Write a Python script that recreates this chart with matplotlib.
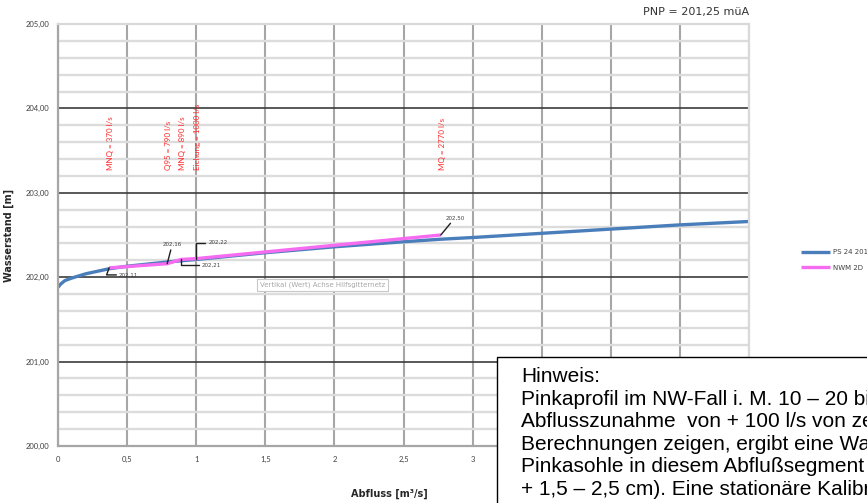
import matplotlib.pyplot as plt
from matplotlib.patches import Rectangle
from matplotlib.ticker import MultipleLocator, FuncFormatter

# Pegelschlüssel PS 24 2018 (Abfluss m3/s -> Wasserstand m ü.A.)
q_ps = [0.0, 0.02, 0.05, 0.1, 0.2, 0.37, 0.5, 0.79, 1.0, 1.5, 2.0, 2.5, 2.77, 3.0, 3.5, 4.0, 4.5, 5.0]
h_ps = [201.88, 201.92, 201.96, 201.99, 202.04, 202.10, 202.13, 202.18, 202.21, 202.29, 202.36, 202.42,
        202.45, 202.47, 202.52, 202.57, 202.62, 202.66]

# NWM 2D Ergebnisse
q_nwm = [0.37, 0.79, 0.89, 1.0, 2.77]
h_nwm = [202.11, 202.16, 202.21, 202.22, 202.50]

# Kennwerte
kenn_q = [0.37, 0.79, 0.89, 1.0, 2.77]
kenn_txt = ['MNQ = 370 l/s', 'Q95 = 790 l/s', 'MNQ = 890 l/s', 'Eichung = 1000 l/s', 'MQ = 2770 l/s']

# Beschriftungs-Offsets in Pixel und Verbindungsart
lbl_off = [(10, -7), (5, 19), (21, -6), (12, 16), (14, 17)]
lbl_conn = ['angle,angleA=0,angleB=70', 'arc3', 'angle,angleA=0,angleB=90',
            'angle,angleA=0,angleB=90', 'arc3']

hinweis = ("Hinweis:\n"
           "Pinkaprofil im NW-Fall i. M. 10 – 20 bis 25 m breit, bei\n"
           "Abflusszunahme  von + 100 l/s von zeigt sich, wie die\n"
           "Berechnungen zeigen, ergibt eine Wasserspiegeländerung\n"
           "Pinkasohle in diesem Abflußsegment von nur\n"
           "+ 1,5 – 2,5 cm). Eine stationäre Kalibrierung")

fig = plt.figure(figsize=(8.67, 5.03), dpi=100)
ax = fig.add_axes([58 / 867, 57 / 503, 691 / 867, 422 / 503])

ax.set_xlim(0, 5)
ax.set_ylim(200, 205)
ax.xaxis.set_major_locator(MultipleLocator(0.5))
ax.yaxis.set_major_locator(MultipleLocator(1))
ax.yaxis.set_minor_locator(MultipleLocator(0.2))

# Achsbeschriftung rechts von 3 liegt unter dem Hinweisfeld
komma = lambda v, p: ('%g' % v).replace('.', ',') if v <= 3 else ''
ax.xaxis.set_major_formatter(FuncFormatter(komma))
ax.yaxis.set_major_formatter(FuncFormatter(lambda v, p: ('%.2f' % v).replace('.', ',')))

ax.set_axisbelow(True)
ax.grid(which='minor', axis='y', color='#dcdcdc', lw=1.7)
ax.grid(which='major', axis='y', color='#3c3c3c', lw=1.2)
ax.grid(which='major', axis='x', color='#a6a6a6', lw=1.5)
ax.tick_params(which='both', length=0, labelsize=5.5, labelcolor='#404040')
ax.tick_params(axis='y', pad=6)
ax.tick_params(axis='x', pad=7)
for s in ax.spines.values():
    s.set_color('#d9d9d9')
    s.set_linewidth(1.6)
ax.spines['left'].set_color('#a6a6a6')
ax.spines['bottom'].set_color('#a6a6a6')

ax.plot(q_ps, h_ps, color='#4a7ebb', lw=2.4, label='PS 24 2018', solid_capstyle='butt')
ax.plot(q_nwm, h_nwm, color='#f66cf0', lw=2.4, label='NWM 2D', solid_capstyle='butt')

for q, t in zip(kenn_q, kenn_txt):
    ax.text(q + 0.01, 203.27, t, rotation=90, ha='center', va='bottom',
            color='#ff2a2a', fontsize=5.8, family='Lato')

for q, h, off, cs in zip(q_nwm, h_nwm, lbl_off, lbl_conn):
    ax.annotate(('%.2f' % h).replace('.', ','), xy=(q, h), xytext=off,
                textcoords='offset pixels', fontsize=4, color='#404040',
                ha='left' if off[0] > 8 and cs != 'arc3' else 'center', va='center',
                arrowprops=dict(arrowstyle='-', color='#202020', lw=1.0,
                                shrinkA=0, shrinkB=0, connectionstyle=cs))

ax.text(0.383, 0.382, 'Vertikal (Wert) Achse Hilfsgitternetz', transform=ax.transAxes,
        fontsize=5, color='#a8a8a8', ha='center', va='center',
        bbox=dict(boxstyle='square,pad=0.4', fc='white', ec='#c8c8c8', lw=0.8))

ax.set_ylabel('Wasserstand [m]', fontsize=7, fontweight='bold', color='#262626')
ax.yaxis.set_label_coords(-0.063, 0.5)
ax.set_xlabel('Abfluss [m³/s]', fontsize=7, fontweight='bold', color='#262626')
ax.xaxis.set_label_coords(0.48, -0.102)

ax.text(1.0, 1.016, 'PNP = 201,25 müA', transform=ax.transAxes, ha='right', va='bottom',
        fontsize=8, color='#333333')

fig.legend(loc='center left', bbox_to_anchor=(795 / 867, 1 - 260 / 503), frameon=False,
           fontsize=5, handlelength=4.2, handletextpad=0.4, labelspacing=1.4,
           labelcolor='#404040')

box = Rectangle((497 / 867, -0.2), 0.6, 0.2 + (503 - 357) / 503, transform=fig.transFigure,
                fc='white', ec='black', lw=1.0, zorder=10)
fig.patches.append(box)
fig.text(521 / 867, 1 - 367 / 503, hinweis, ha='left', va='top', fontsize=15,
         family='Liberation Sans', color='black', linespacing=1.24, zorder=11)

for t in ax.get_xticklabels() + ax.get_yticklabels():
    t.set_family('Lato')

fig.savefig('out.png', dpi=100)
